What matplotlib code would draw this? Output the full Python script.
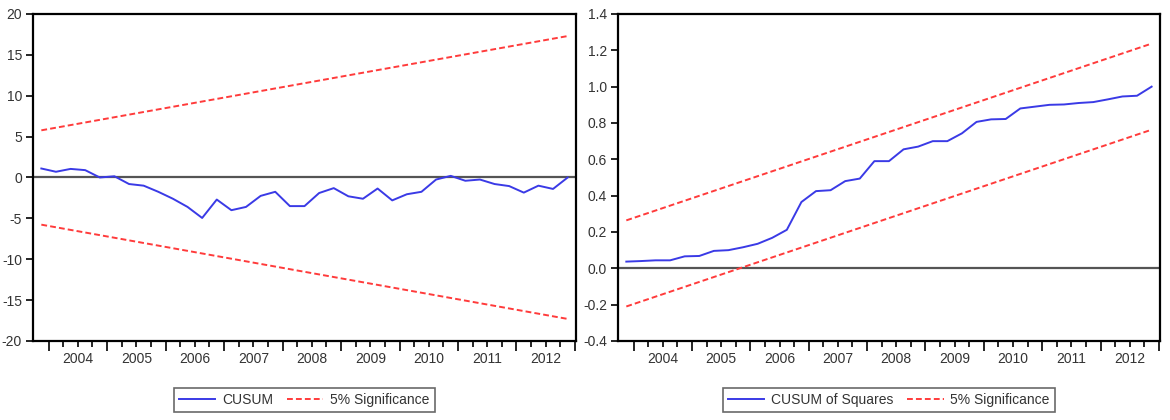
import numpy as np
import matplotlib.pyplot as plt

plt.rcParams['font.family'] = ['Liberation Sans', 'DejaVu Sans']
plt.rcParams['axes.unicode_minus'] = False

# quarterly observations 2003Q4 .. 2012Q4
years = ['2004', '2005', '2006', '2007', '2008', '2009', '2010', '2011', '2012']

cusum = [1.1, 0.7, 1.05, 0.9, 0.0, 0.15, -0.8, -1.0, -1.75, -2.6,
         -3.6, -4.95, -2.7, -4.0, -3.6, -2.25, -1.75, -3.5, -3.5, -1.9,
         -1.3, -2.3, -2.6, -1.35, -2.8, -2.05, -1.75, -0.25, 0.2, -0.4,
         -0.25, -0.8, -1.05, -1.85, -1.0, -1.4, 0.0]
cusum_upper = [5.77, 17.30]
cusum_lower = [-5.77, -17.30]

cusumsq = [0.037, 0.04, 0.044, 0.044, 0.066, 0.068, 0.096, 0.10, 0.116, 0.135,
           0.168, 0.212, 0.365, 0.425, 0.43, 0.48, 0.494, 0.59, 0.59, 0.655,
           0.67, 0.70, 0.70, 0.743, 0.806, 0.82, 0.822, 0.88, 0.89, 0.90,
           0.902, 0.91, 0.915, 0.93, 0.946, 0.95, 1.0]
cusumsq_upper = [0.264, 1.237]
cusumsq_lower = [-0.210, 0.763]

BLUE = '#3a3ae6'
RED = '#ff3b3b'


def setup_axis(ax, n):
    ax.set_xlim(-0.57, n - 1 + 0.57)
    # long ticks at year boundaries, short ticks at quarters
    ax.set_xticks([0.5 + 4 * k for k in range(len(years) + 1) if 0.5 + 4 * k < n])
    ax.set_xticklabels([])
    minor, labels = [], []
    for k in range(len(years)):
        for q in (1, 2, 3):
            pos = 0.5 + 4 * k + q
            if pos < n - 0.5:
                minor.append(pos)
                labels.append(years[k] if q == 2 else '')
    ax.set_xticks(minor, labels=labels, minor=True)
    ax.tick_params(axis='x', which='major', length=7, width=1.2, direction='out')
    ax.tick_params(axis='x', which='minor', length=4, width=1.2, direction='out',
                   pad=4, labelsize=10, labelcolor='#333333')
    ax.tick_params(axis='y', length=5, width=1.2, direction='out', pad=3,
                   labelsize=10, labelcolor='#333333')
    for s in ax.spines.values():
        s.set_linewidth(1.6)
    ax.axhline(0, color='#555555', lw=1.6, zorder=1)


fig = plt.figure(figsize=(11.7, 4.2), dpi=100)
ax1 = fig.add_axes([0.0282, 0.1881, 0.4641, 0.7786])
ax2 = fig.add_axes([0.5282, 0.1881, 0.4632, 0.7786])

n = len(cusum)
x = np.arange(n)
ends = [0, n - 1]

ax1.plot(x, cusum, color=BLUE, lw=1.4, label='CUSUM', zorder=3)
ax1.plot(ends, cusum_upper, color=RED, lw=1.4, ls=(0, (3, 1.6)), label='5% Significance', zorder=2)
ax1.plot(ends, cusum_lower, color=RED, lw=1.4, ls=(0, (3, 1.6)), zorder=2)
ax1.set_ylim(-20, 20)
ax1.set_yticks(range(-20, 21, 5))
setup_axis(ax1, n)

ax2.plot(x, cusumsq, color=BLUE, lw=1.4, label='CUSUM of Squares', zorder=3)
ax2.plot(ends, cusumsq_upper, color=RED, lw=1.4, ls=(0, (3, 1.6)), label='5% Significance', zorder=2)
ax2.plot(ends, cusumsq_lower, color=RED, lw=1.4, ls=(0, (3, 1.6)), zorder=2)
ax2.set_ylim(-0.4, 1.4)
yt = np.round(np.arange(-0.4, 1.41, 0.2), 1)
ax2.set_yticks(yt)
ax2.set_yticklabels([f'{v:.1f}' for v in yt])
setup_axis(ax2, n)

for ax in (ax1, ax2):
    leg = ax.legend(loc='center', bbox_to_anchor=(0.5, -0.18), ncol=2, fontsize=10,
                    frameon=True, fancybox=False, edgecolor='#444444',
                    handlelength=2.6, columnspacing=1.0, handletextpad=0.5,
                    borderpad=0.35)
    leg.get_frame().set_linewidth(1.2)
    for t in leg.get_texts():
        t.set_color('#333333')

fig.savefig('out.png', dpi=100)
